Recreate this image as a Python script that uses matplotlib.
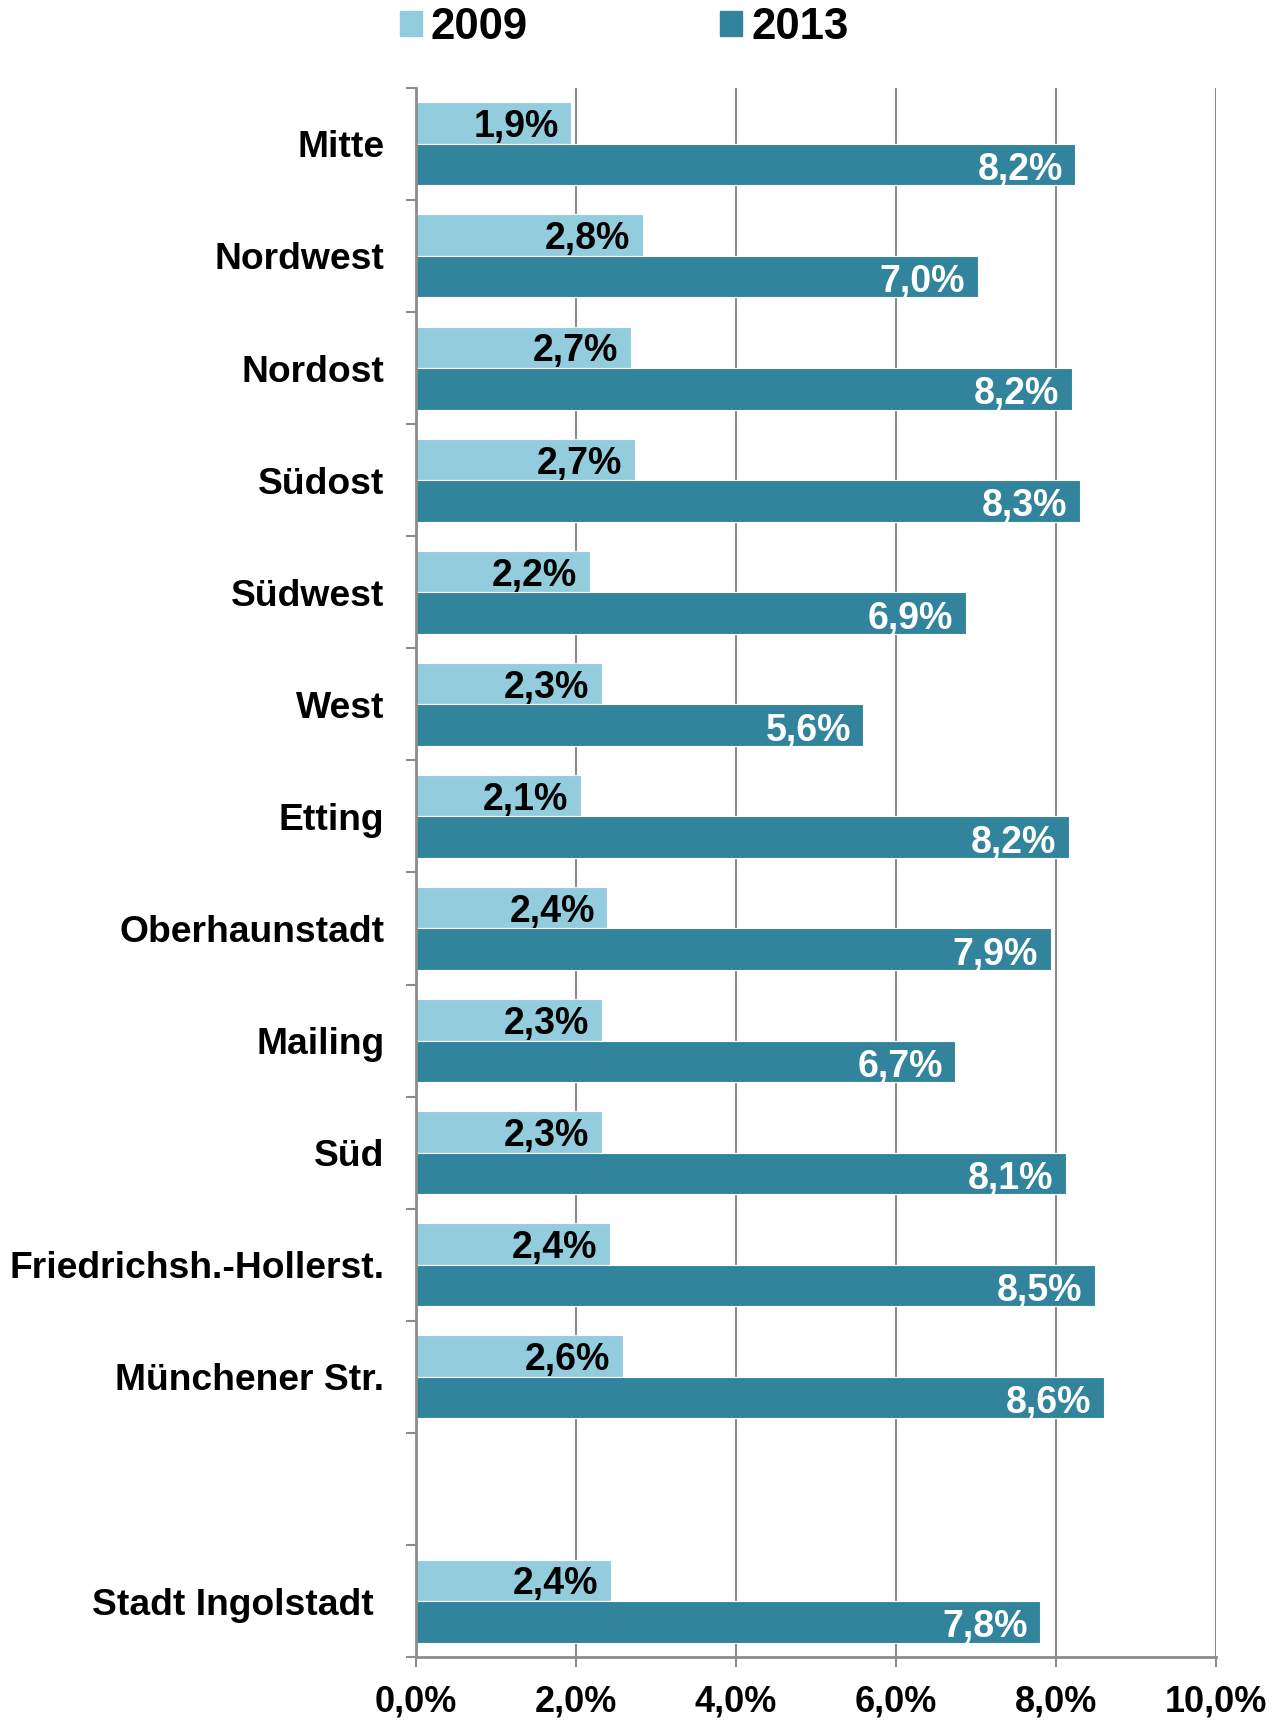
import numpy as np
import matplotlib
matplotlib.use("Agg")
import matplotlib.pyplot as plt
from matplotlib.patches import Patch

plt.rcParams['font.family'] = ['Liberation Sans', 'DejaVu Sans']
narrow = ['Liberation Sans Narrow', 'Liberation Sans', 'DejaVu Sans']

# data
categories = ['Mitte', 'Nordwest', 'Nordost', 'Südost', 'Südwest', 'West', 'Etting',
              'Oberhaunstadt', 'Mailing', 'Süd', 'Friedrichsh.-Hollerst.', 'Münchener Str.',
              '', 'Stadt Ingolstadt ']
v2009 = [1.94, 2.83, 2.68, 2.73, 2.17, 2.32, 2.06, 2.39, 2.32, 2.32, 2.42, 2.58, None, 2.43]
v2013 = [8.24, 7.02, 8.20, 8.30, 6.87, 5.59, 8.16, 7.93, 6.74, 8.12, 8.48, 8.60, None, 7.80]
xticks = [0, 2, 4, 6, 8, 10]

c2009 = '#93CDDD'
c2013 = '#31849B'
grid_c = '#8C8C8C'

fig = plt.figure(figsize=(12.82, 17.22), dpi=100)
ax = fig.add_axes([0.3246, 0.0377, 0.9486 - 0.3246, 0.949 - 0.0377])

n = len(categories)
pos = np.arange(n)
h = 0.37
for i in range(n):
    if v2009[i] is None:
        continue
    ax.barh(pos[i] - h / 2, v2009[i], height=h, color=c2009, edgecolor='white', linewidth=0.8, zorder=3)
    ax.barh(pos[i] + h / 2, v2013[i], height=h, color=c2013, edgecolor='white', linewidth=0.8, zorder=3)
    ax.annotate(f"{v2009[i]:.1f}%".replace('.', ','), (v2009[i], pos[i] - h / 2),
                xytext=(-9, -3), textcoords='offset points', ha='right', va='center',
                fontsize=27, fontweight='bold', color='black', family=narrow, zorder=4)
    ax.annotate(f"{v2013[i]:.1f}%".replace('.', ','), (v2013[i], pos[i] + h / 2),
                xytext=(-9, -4), textcoords='offset points', ha='right', va='center',
                fontsize=27, fontweight='bold', color='white', family=narrow, zorder=4)

ax.set_ylim(n - 0.5, -0.5)
ax.set_xlim(0, 10)

# category labels centred in slots, ticks at slot borders
ax.set_yticks(pos)
ax.set_yticklabels(categories, fontsize=26.8, fontweight='bold')
ax.tick_params(axis='y', length=0, pad=23)
ax.set_yticks(np.arange(n + 1) - 0.5, minor=True)
ax.tick_params(axis='y', which='minor', length=7, width=1.5, color=grid_c, direction='out')

ax.set_xticks(xticks)
ax.set_xticklabels([f"{t:.1f}%".replace('.', ',') for t in xticks], fontsize=26,
                   fontweight='bold', family=narrow)
ax.tick_params(axis='x', length=7, width=1.5, color=grid_c, pad=13)

ax.grid(axis='x', color=grid_c, linewidth=1.5, zorder=0)
for s in ['top', 'right']:
    ax.spines[s].set_visible(False)
for s in ['left', 'bottom']:
    ax.spines[s].set_color(grid_c)
    ax.spines[s].set_linewidth(2)
    ax.spines[s].set_zorder(5)

handles = [Patch(color=c2009, label='2009'), Patch(color=c2013, label='2013')]
fig.legend(handles=handles, loc='center', bbox_to_anchor=(0.487, 0.984), ncol=2,
           frameon=False, prop={'size': 31.5, 'weight': 'bold'}, handlelength=0.5,
           handleheight=0.5, handletextpad=0.2, columnspacing=4.4)

fig.savefig('out.png', dpi=100)
